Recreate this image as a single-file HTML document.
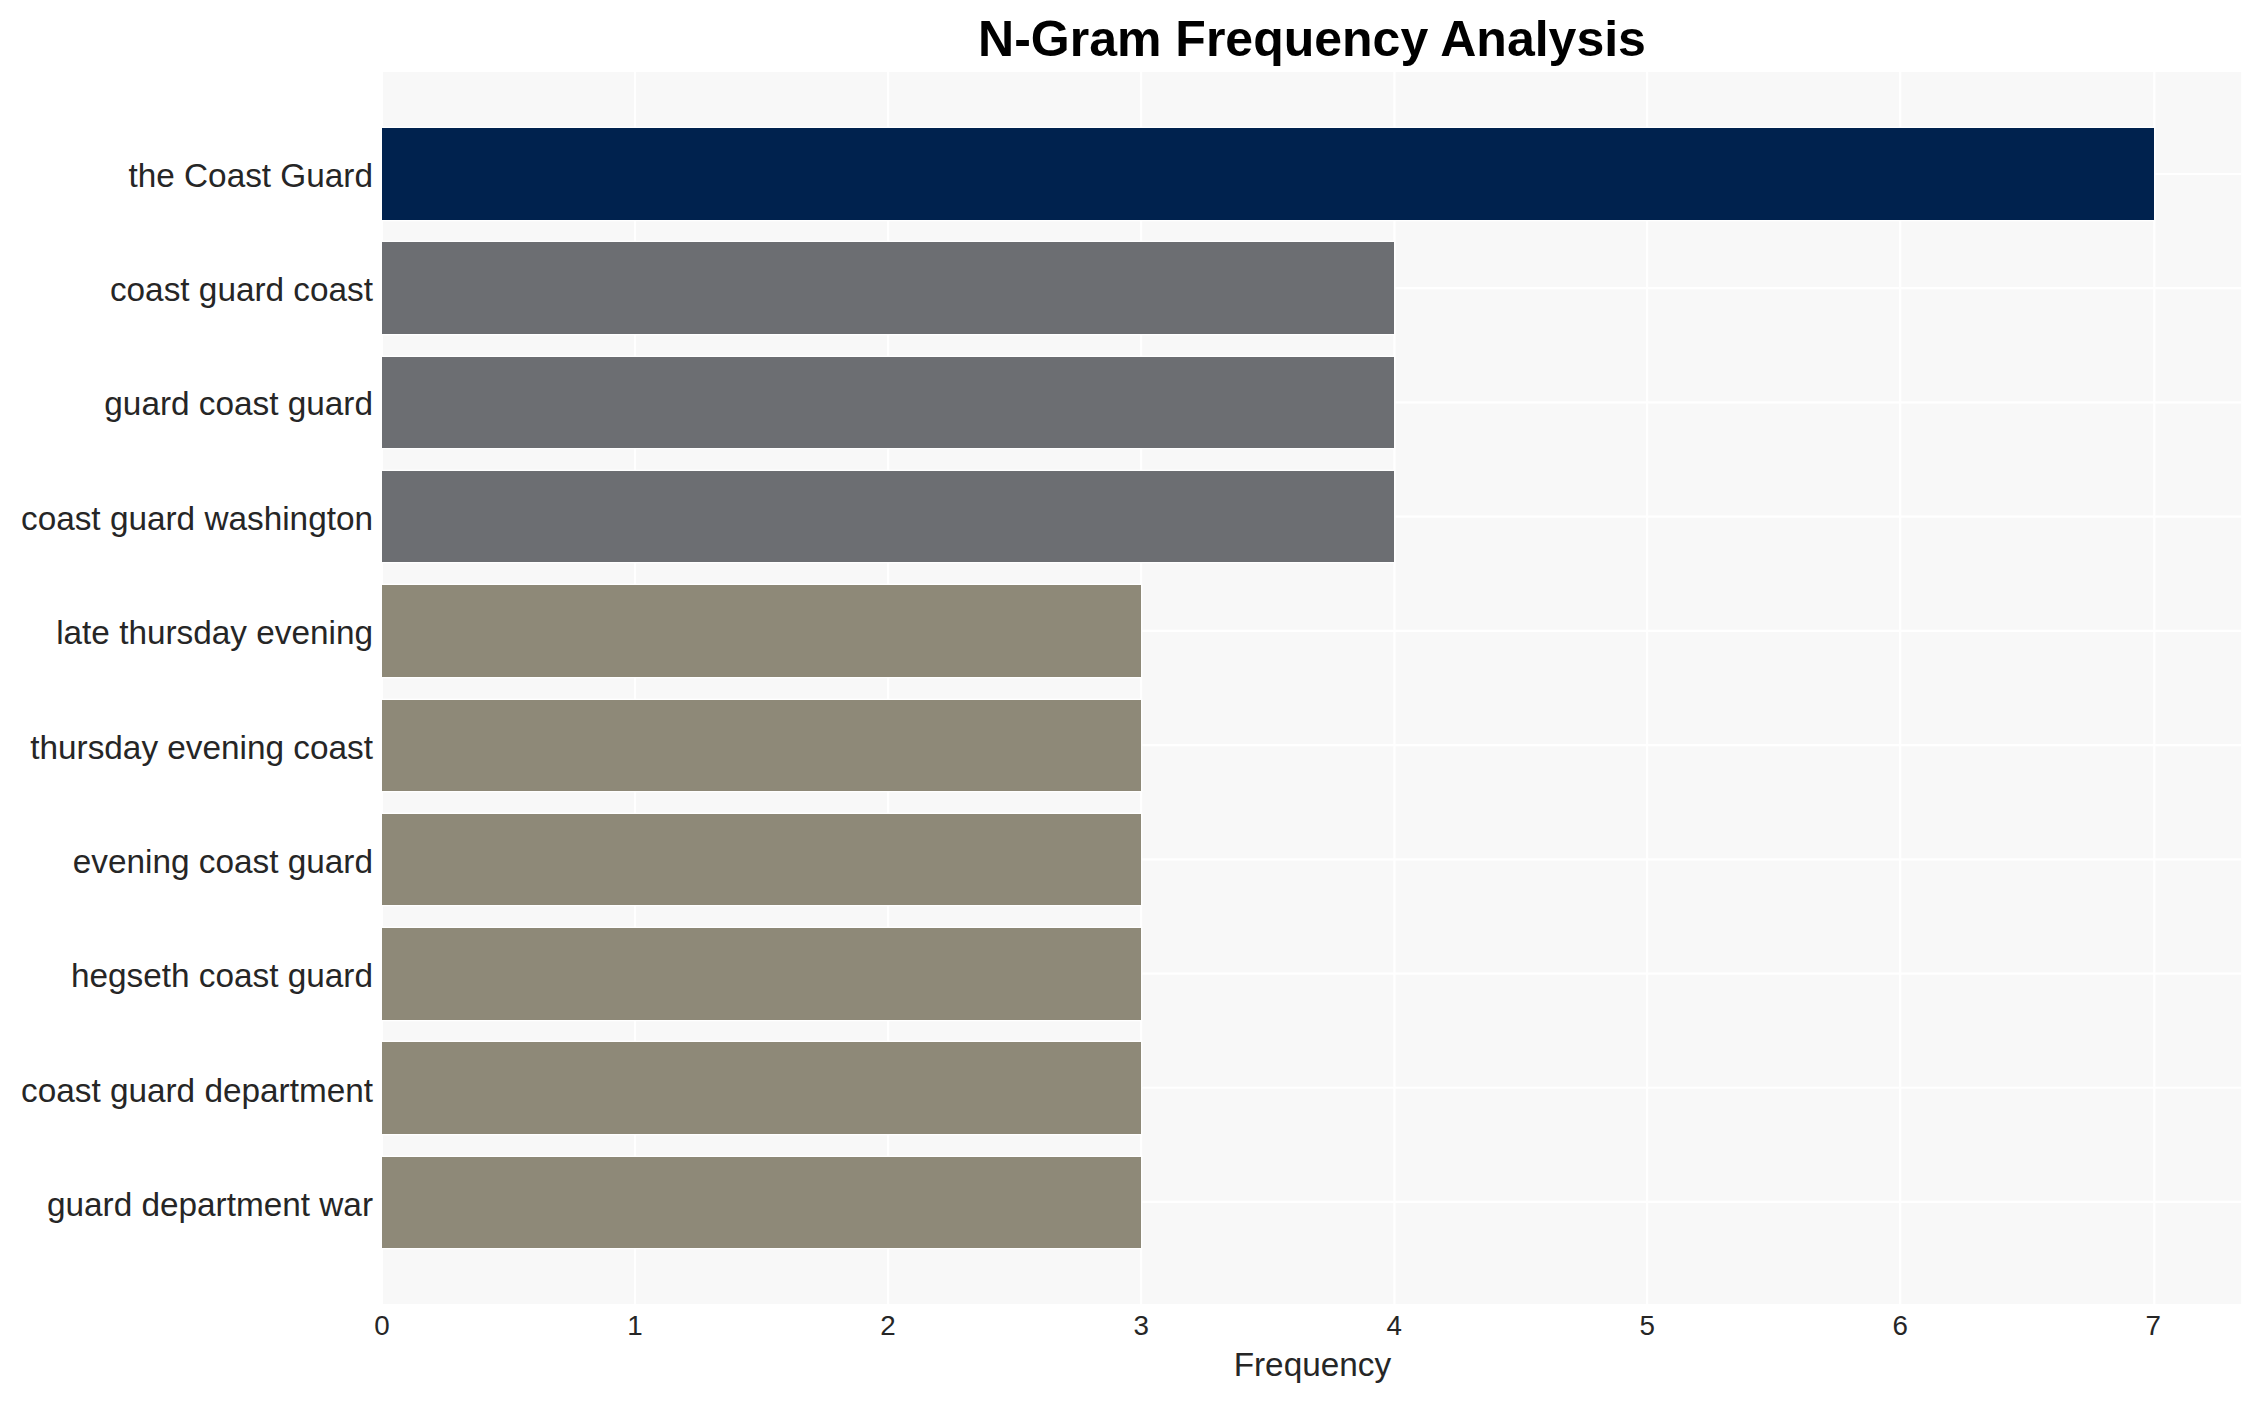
<!DOCTYPE html>
<html lang="en"><head><meta charset="utf-8"><title>N-Gram Frequency Analysis</title>
<style>
html,body{margin:0;padding:0;background:#fff;}
body{width:2262px;height:1402px;overflow:hidden;}
svg{display:block;}
text{font-family:"Liberation Sans",sans-serif;}
.yt{font-size:33.33px;fill:#262626;text-anchor:end;}
.xt{font-size:27.78px;fill:#262626;text-anchor:middle;}
.xl{font-size:33.33px;fill:#262626;text-anchor:middle;}
.ti{font-size:50px;font-weight:bold;fill:#000;text-anchor:middle;}
</style></head><body>
<svg width="2262" height="1402" viewBox="0 0 2262 1402">
<rect x="0" y="0" width="2262" height="1402" fill="#ffffff"/>
<rect x="382.0" y="72.1" width="1859.2" height="1231.8" fill="#f8f8f8"/>
<g stroke="#ffffff" stroke-width="2.22" fill="none">
<line x1="382.00" y1="72.1" x2="382.00" y2="1303.9"/>
<line x1="635.00" y1="72.1" x2="635.00" y2="1303.9"/>
<line x1="888.05" y1="72.1" x2="888.05" y2="1303.9"/>
<line x1="1141.05" y1="72.1" x2="1141.05" y2="1303.9"/>
<line x1="1394.45" y1="72.1" x2="1394.45" y2="1303.9"/>
<line x1="1647.05" y1="72.1" x2="1647.05" y2="1303.9"/>
<line x1="1900.20" y1="72.1" x2="1900.20" y2="1303.9"/>
<line x1="2154.35" y1="72.1" x2="2154.35" y2="1303.9"/>
<line x1="382.0" y1="174.00" x2="2241.2" y2="174.00"/>
<line x1="382.0" y1="288.22" x2="2241.2" y2="288.22"/>
<line x1="382.0" y1="402.44" x2="2241.2" y2="402.44"/>
<line x1="382.0" y1="516.66" x2="2241.2" y2="516.66"/>
<line x1="382.0" y1="630.88" x2="2241.2" y2="630.88"/>
<line x1="382.0" y1="745.10" x2="2241.2" y2="745.10"/>
<line x1="382.0" y1="859.32" x2="2241.2" y2="859.32"/>
<line x1="382.0" y1="973.54" x2="2241.2" y2="973.54"/>
<line x1="382.0" y1="1087.76" x2="2241.2" y2="1087.76"/>
<line x1="382.0" y1="1201.98" x2="2241.2" y2="1201.98"/>
</g>
<rect x="382" y="126.7" width="1773.3" height="94.6" fill="#ffffff"/>
<rect x="382" y="128" width="1772" height="92" fill="#00224e"/>
<rect x="382" y="240.7" width="1013.3" height="94.6" fill="#ffffff"/>
<rect x="382" y="242" width="1012" height="92" fill="#6c6e72"/>
<rect x="382" y="355.7" width="1013.3" height="93.6" fill="#ffffff"/>
<rect x="382" y="357" width="1012" height="91" fill="#6c6e72"/>
<rect x="382" y="469.7" width="1013.3" height="93.6" fill="#ffffff"/>
<rect x="382" y="471" width="1012" height="91" fill="#6c6e72"/>
<rect x="382" y="583.7" width="760.3" height="94.6" fill="#ffffff"/>
<rect x="382" y="585" width="759" height="92" fill="#8e8978"/>
<rect x="382" y="698.7" width="760.3" height="93.6" fill="#ffffff"/>
<rect x="382" y="700" width="759" height="91" fill="#8e8978"/>
<rect x="382" y="812.7" width="760.3" height="93.6" fill="#ffffff"/>
<rect x="382" y="814" width="759" height="91" fill="#8e8978"/>
<rect x="382" y="926.7" width="760.3" height="94.6" fill="#ffffff"/>
<rect x="382" y="928" width="759" height="92" fill="#8e8978"/>
<rect x="382" y="1040.7" width="760.3" height="94.6" fill="#ffffff"/>
<rect x="382" y="1042" width="759" height="92" fill="#8e8978"/>
<rect x="382" y="1155.7" width="760.3" height="93.6" fill="#ffffff"/>
<rect x="382" y="1157" width="759" height="91" fill="#8e8978"/>
<text class="yt" x="373" y="187">the Coast Guard</text>
<text class="yt" x="373" y="301">coast guard coast</text>
<text class="yt" x="373" y="415">guard coast guard</text>
<text class="yt" x="373" y="530">coast guard washington</text>
<text class="yt" x="373" y="644">late thursday evening</text>
<text class="yt" x="373" y="759">thursday evening coast</text>
<text class="yt" x="373" y="873">evening coast guard</text>
<text class="yt" x="373" y="987">hegseth coast guard</text>
<text class="yt" x="373" y="1102">coast guard department</text>
<text class="yt" x="373" y="1216">guard department war</text>
<text class="xt" x="382.00" y="1335.1">0</text>
<text class="xt" x="635.04" y="1335.1">1</text>
<text class="xt" x="888.08" y="1335.1">2</text>
<text class="xt" x="1141.12" y="1335.1">3</text>
<text class="xt" x="1394.16" y="1335.1">4</text>
<text class="xt" x="1647.20" y="1335.1">5</text>
<text class="xt" x="1900.24" y="1335.1">6</text>
<text class="xt" x="2153.28" y="1335.1">7</text>
<text class="xl" x="1312.4" y="1375.9">Frequency</text>
<text class="ti" x="1312.0" y="56.2">N-Gram Frequency Analysis</text>
</svg></body></html>
